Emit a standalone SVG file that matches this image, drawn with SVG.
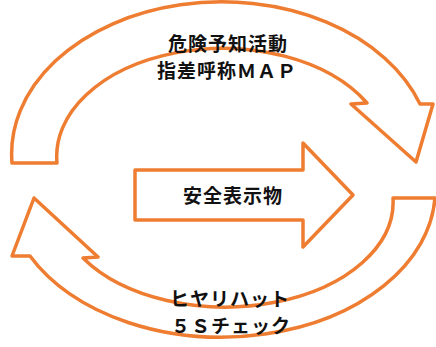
<svg xmlns="http://www.w3.org/2000/svg" width="436" height="347" viewBox="0 0 436 347">
  <style>
    .arrow { fill: #ffffff; stroke: #EE7D31; stroke-width: 3.5; stroke-linejoin: round; }
    .label { font-family: "Noto Sans CJK JP", "Noto Sans", sans-serif; font-size: 19px; font-weight: bold; fill: #111111; text-anchor: middle; letter-spacing: 1px; }
  </style>
  <rect width="436" height="347" fill="#ffffff"/>
  <g id="connectors">
    <g id="arrow-top">
      <path class="arrow" d="M 12,163 A 210,152 0 0 1 420,104 L 433,104 L 416,162 L 351,104 L 367,103 A 166,108 0 0 0 57,163 Z"/>
    </g>
    <g id="arrow-bottom">
      <path class="arrow" d="M 435,198 A 214,147 0 0 1 30,256 L 12,256 L 34,198 L 98,257 L 83,258 A 168,105 0 0 0 393,198 Z"/>
    </g>
  </g>
  <g id="node-center">
    <path class="arrow" d="M 135,170 L 303,170 L 303,143 L 353,195 L 303,247 L 303,220 L 135,220 Z"/>
    <text class="label" x="233" y="203">安全表示物</text>
  </g>
  <g id="node-top">
    <text class="label" x="228" y="51">危険予知活動</text>
    <text class="label" x="227" y="78">指差呼称ＭＡＰ</text>
  </g>
  <g id="node-bottom">
    <text class="label" x="230" y="306">ヒヤリハット</text>
    <text class="label" x="231" y="333">５Ｓチェック</text>
  </g>
</svg>
